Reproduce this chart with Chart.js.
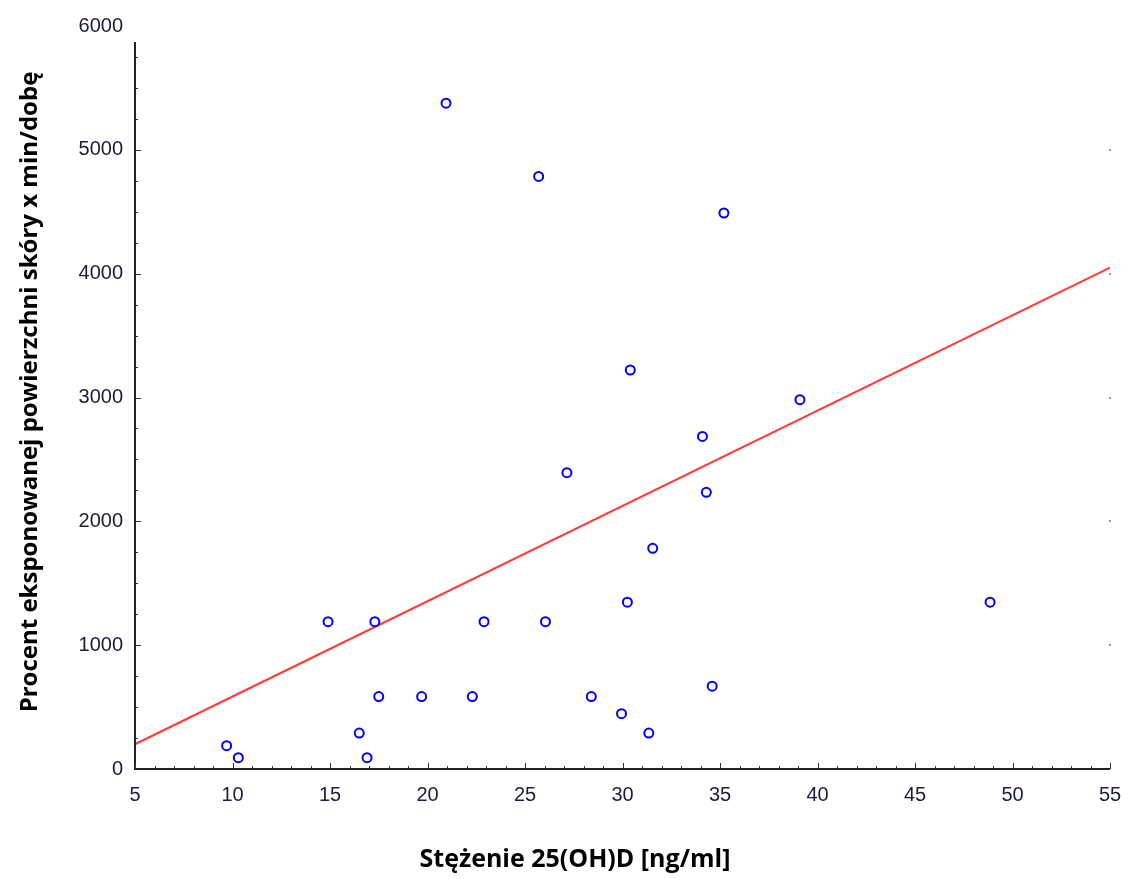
<!DOCTYPE html>
<html>
<head>
<meta charset="utf-8">
<script src="https://cdn.jsdelivr.net/npm/chart.js@4"></script>
<style>
  html, body { margin: 0; padding: 0; background: #fff; }
  canvas { display: block; }
</style>
</head>
<body>
<canvas id="chart" width="1130" height="879"></canvas>
<script>
// 25(OH)D concentration vs skin exposure
const conc = [9.7, 10.3, 14.9, 17.3, 16.5, 16.9, 17.5, 19.7, 20.95, 22.3, 22.9, 25.7, 26.05,
    27.15, 28.4, 29.95, 30.25, 30.4, 31.35, 31.55, 34.1, 34.3, 34.6, 35.2, 39.1, 48.85];
const exposure = [188, 91, 1190, 1190, 290, 91, 585, 585, 5377, 585, 1190, 4785, 1190,
    2393, 585, 447, 1347, 3222, 290, 1782, 2686, 2234, 669, 4490, 2982, 1347];

// fitted line, read at both ends of the x range
const fitX = [5, 55];
const fitY = [200, 4048];

const xTicks = [5, 10, 15, 20, 25, 30, 35, 40, 45, 50, 55];
const yTicks = [0, 1000, 2000, 3000, 4000, 5000, 6000];
const rightDots = [1000, 2000, 3000, 4000, 5000];

const xTitle = 'Stężenie 25(OH)D [ng/ml]';
const yTitle = 'Procent eksponowanej powierzchni skóry x min/dobę';

const axesPlugin = {
    id: 'axesPlugin',
    afterDraw(chart) {
        const ctx = chart.ctx;
        const xs = chart.scales.x, ys = chart.scales.y;
        const x0 = xs.getPixelForValue(5), x1 = xs.getPixelForValue(55);
        const y0 = ys.getPixelForValue(0), yTop = ys.getPixelForValue(5870);
        ctx.save();
        ctx.strokeStyle = '#222';
        ctx.lineWidth = 2;
        ctx.beginPath();
        ctx.moveTo(x0, yTop);
        ctx.lineTo(x0, y0);
        ctx.lineTo(x1, y0);
        ctx.stroke();

        ctx.lineWidth = 1;
        ctx.strokeStyle = '#333';
        ctx.beginPath();
        for (let v = 5; v <= 55; v++) {
            const px = Math.round(xs.getPixelForValue(v)) + 0.5;
            const len = v % 5 === 0 ? 6 : 3;
            ctx.moveTo(px, y0);
            ctx.lineTo(px, y0 - len);
        }
        for (let v = 250; v <= 5750; v += 250) {
            const py = Math.round(ys.getPixelForValue(v)) + 0.5;
            const len = v % 1000 === 0 ? 6 : 3;
            ctx.moveTo(x0, py);
            ctx.lineTo(x0 + len, py);
        }
        ctx.stroke();

        ctx.fillStyle = '#999';
        rightDots.forEach(v => {
            ctx.fillRect(Math.round(x1) - 1, Math.round(ys.getPixelForValue(v)) - 1, 2, 2);
        });

        ctx.fillStyle = '#000';
        ctx.textAlign = 'center';
        ctx.textBaseline = 'middle';
        ctx.font = 'bold 25px "Open Sans", sans-serif';
        ctx.fillText(xTitle, 575, 860);
        ctx.font = 'bold 24px "Open Sans", sans-serif';
        ctx.translate(30, 392);
        ctx.rotate(-Math.PI / 2);
        ctx.fillText(yTitle, 0, 0);
        ctx.restore();
    }
};

const tickFont = { family: '"Liberation Sans", Arial, sans-serif', size: 20 };

new Chart(document.getElementById('chart'), {
    type: 'scatter',
    data: {
        datasets: [{
            label: 'Dane',
            data: conc.map((c, i) => ({ x: c, y: exposure[i] })),
            pointRadius: 4.5,
            pointBorderWidth: 2,
            pointBorderColor: '#0000ff',
            pointBackgroundColor: '#ffffff',
            order: 1
        }, {
            label: 'Regresja',
            type: 'line',
            data: fitX.map((x, i) => ({ x: x, y: fitY[i] })),
            borderColor: '#ff3b3b',
            borderWidth: 2,
            pointRadius: 0,
            fill: false,
            order: 2
        }]
    },
    plugins: [axesPlugin],
    options: {
        responsive: false,
        animation: false,
        layout: { padding: { left: 0, right: 20, top: 26, bottom: 0 } },
        plugins: { legend: { display: false }, tooltip: { enabled: false } },
        scales: {
            x: {
                type: 'linear',
                min: 5,
                max: 55,
                afterBuildTicks: s => { s.ticks = xTicks.map(v => ({ value: v })); },
                afterFit: s => { s.height = 110; s.paddingRight = 0; s.paddingLeft = 0; },
                grid: { display: false, drawTicks: false },
                border: { display: false },
                ticks: { font: tickFont, color: '#1b1b3b', padding: 14, maxRotation: 0, autoSkip: false,
                    callback: v => String(v) }
            },
            y: {
                min: 0,
                max: 6000,
                afterBuildTicks: s => { s.ticks = yTicks.map(v => ({ value: v })); },
                afterFit: s => { s.width = 135; s.paddingTop = 0; s.paddingBottom = 0; },
                grid: { display: false, drawTicks: false },
                border: { display: false },
                ticks: { font: tickFont, color: '#1b1b3b', padding: 12, callback: v => String(v) }
            }
        }
    }
});
</script>
</body>
</html>
